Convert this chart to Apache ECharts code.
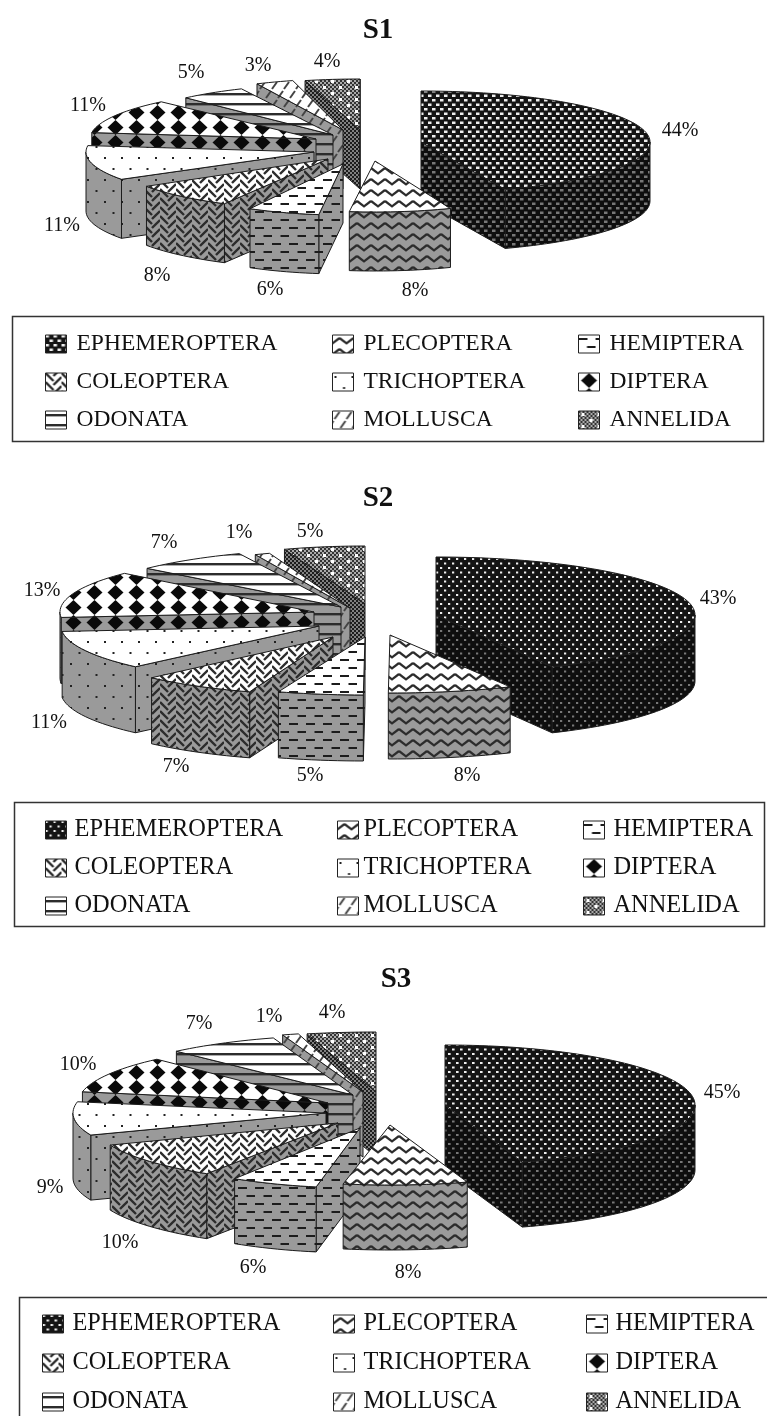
<!DOCTYPE html>
<html>
<head>
<meta charset="utf-8">
<style>
  html, body { margin: 0; padding: 0; background: #fff; }
  #chart { width: 767px; height: 1416px; filter: blur(0.4px); }
</style>
<script src="https://cdn.jsdelivr.net/npm/echarts@6/dist/echarts.min.js"></script>
</head>
<body>
<div id="chart"></div>
<script>
const categories = ['EPHEMEROPTERA', 'PLECOPTERA', 'HEMIPTERA', 'COLEOPTERA', 'TRICHOPTERA', 'DIPTERA', 'ODONATA', 'MOLLUSCA', 'ANNELIDA'];
const panelNames = ['S1', 'S2', 'S3'];

// the printed labels are these rounded
const s1Values = [44, 8, 6, 8, 11, 11, 5, 3, 4];
const s2Values = [42.6, 7.5, 5.2, 7.3, 10.9, 13.1, 7, 1, 5.4];
const s3Values = [45, 8, 6, 10, 9, 10, 7, 1, 4];

// exploded slice placement: apex x, apex y, horizontal radius
const s1Slices = [[421, 142, 229], [375, 161, 205], [343, 164, 193], [328, 159, 215], [314, 152, 228], [316, 139, 226], [333, 135, 215], [343, 130, 202], [360, 130, 221]];
const s2Slices = [[436, 615, 259], [390, 635, 268], [365, 637, 265], [333, 637, 255], [319, 626, 258], [314, 612, 254], [341, 607, 260], [350, 608, 242], [365, 604, 242]];
const s3Slices = [[445, 1105, 250], [390, 1125, 250], [360, 1128, 234], [338, 1123, 245], [326, 1113, 253], [328, 1103, 250], [353, 1095, 258], [363, 1092, 260], [376, 1092, 277]];

// percent label centres
const s1LabelPos = [[680, 131], [415, 291], [270, 290], [157, 276], [62, 226], [88, 106], [191, 73], [258, 66], [327, 62]];
const s2LabelPos = [[718, 599], [467, 776], [310, 776], [176, 767], [49, 723], [42, 591], [164, 543], [239, 533], [310, 532]];
const s3LabelPos = [[722, 1093], [408, 1273], [253, 1268], [120, 1243], [50, 1188], [78, 1065], [199, 1024], [269, 1017], [332, 1013]];

const panels = [
  { values: s1Values, slices: s1Slices, labels: s1LabelPos, ry: 51, depth: 59, title: [378, 16], box: [12, 316, 751, 125],
    cols: [[45, 76], [332, 363], [578, 609]], top: 332, gap: 14, font: 23.5, dot: [3.5, 2.5] },
  { values: s2Values, slices: s2Slices, labels: s2LabelPos, ry: 58, depth: 66, title: [378, 484], box: [14, 802, 750, 124],
    cols: [[45, 74], [337, 363], [583, 613]], top: 818, gap: 14, font: 24.4, dot: [2.2, 2] },
  { values: s3Values, slices: s3Slices, labels: s3LabelPos, ry: 60, depth: 65, title: [396, 965], box: [19, 1297, 760, 130],
    cols: [[42, 72], [333, 363], [586, 615]], top: 1312, gap: 15, font: 24.3, dot: [2.6, 2] }
];

const legendCols = [[0, 3, 6], [1, 4, 7], [2, 5, 8]];

function tile(w, h, bg, draw) {
  const c = document.createElement('canvas');
  c.width = w;
  c.height = h;
  const ctx = c.getContext('2d');
  ctx.fillStyle = bg;
  ctx.fillRect(0, 0, w, h);
  draw(ctx);
  return { image: c, repeat: 'repeat' };
}

function lines(ctx, segs, color, width) {
  ctx.strokeStyle = color;
  ctx.lineWidth = width;
  segs.forEach(s => {
    ctx.beginPath();
    ctx.moveTo(s[0], s[1]);
    ctx.lineTo(s[2], s[3]);
    ctx.stroke();
  });
}

// ephemeroptera, staggered light dashes on black; the dash size differs per panel
function ephemFill(dot, wall) {
  return tile(8, 9, wall ? '#0e0e0e' : '#141414', ctx => {
    ctx.fillStyle = wall ? '#777' : '#eee';
    ctx.fillRect(0, 0, dot[0], dot[1]);
    ctx.fillRect(4, 4.5, dot[0], dot[1]);
  });
}

const painters = [
  null,
  // plecoptera, zigzag
  bg => tile(14, 11, bg, ctx => {
    lines(ctx, [[-1, 9, 7, 3], [7, 3, 15, 9]], '#2c2c2c', 2.2);
  }),
  // hemiptera, dashes
  bg => tile(17, 16, bg, ctx => {
    ctx.fillStyle = '#1c1c1c';
    ctx.fillRect(0, 3, 9, 2);
    ctx.fillRect(8.5, 11, 9, 2);
  }),
  // coleoptera, herringbone
  bg => tile(16, 9, bg, ctx => {
    const segs = [];
    for (let k = -2; k < 3; k++) {
      segs.push([0, k * 9, 8, k * 9 + 8]);
      segs.push([8, k * 9 + 12, 16, k * 9 + 4]);
    }
    lines(ctx, segs, '#2c2c2c', 2.4);
  }),
  // trichoptera, sparse dots
  bg => tile(17, 22, bg, ctx => {
    ctx.fillStyle = '#222';
    ctx.fillRect(2, 3, 2, 2);
    ctx.fillRect(10.5, 14, 2, 2);
  }),
  // diptera, diamonds
  bg => tile(21, 15, bg, ctx => {
    ctx.fillStyle = '#0a0a0a';
    ctx.beginPath();
    ctx.moveTo(10.5, 0);
    ctx.lineTo(18.5, 7.5);
    ctx.lineTo(10.5, 15);
    ctx.lineTo(2.5, 7.5);
    ctx.closePath();
    ctx.fill();
  }),
  // odonata, stripes
  bg => tile(8, 10, bg, ctx => {
    ctx.fillStyle = '#2c2c2c';
    ctx.fillRect(0, 3, 8, 2.4);
  }),
  // mollusca, short slanted strokes
  bg => tile(12, 18, bg, ctx => {
    lines(ctx, [[2, 8, 7, 1], [8, 17, 13, 10], [-4, 17, 1, 10]], '#444', 2);
  }),
  // annelida, dither with sparse light dots
  (bg, wall) => tile(16, 12, '#cfcfcf', ctx => {
    for (let x = 0; x < 16; x += 2) {
      for (let y = 0; y < 12; y += 2) {
        ctx.fillStyle = (x + y) % 4 === 0 ? (wall ? '#1c1c1c' : '#333') : (wall ? '#808080' : '#aaa');
        ctx.fillRect(x, y, 2, 2);
      }
    }
    if (!wall) {
      ctx.fillStyle = '#fff';
      ctx.fillRect(3, 2, 3, 3);
      ctx.fillRect(11, 8, 3, 3);
    }
  })
];

const topFills = painters.map(p => p && p('#fff', false));
const wallFills = painters.map(p => p && p('#9a9a9a', true));

const EDGE = '#1c1c1c';

function facePoly(points, fill) {
  return { type: 'polygon', shape: { points: points }, style: { fill: fill, stroke: EDGE, lineWidth: 1 } };
}

function renderSlice(panel, idx) {
  const place = panel.slices[idx];
  const topFill = idx === 0 ? ephemFill(panel.dot, false) : topFills[idx];
  const wallFill = idx === 0 ? ephemFill(panel.dot, true) : wallFills[idx];
  return function (params, api) {
    const share = api.value(0);
    const a0 = api.value(1);
    const a1 = a0 + share * 3.6;
    const cx = place[0], cy = place[1], r = place[2];
    const pt = deg => {
      const t = deg * Math.PI / 180;
      return [cx + r * Math.sin(t), cy - panel.ry * Math.cos(t)];
    };
    const arc = [];
    const steps = Math.max(2, Math.ceil((a1 - a0) / 2));
    for (let i = 0; i <= steps; i++) arc.push(pt(a0 + (a1 - a0) * i / steps));
    const apex = [cx, cy];
    const down = p => [p[0], p[1] + panel.depth];
    const wall = pts => facePoly(pts.concat(pts.slice().reverse().map(down)), wallFill);

    const children = [];
    const first = arc[0], last = arc[arc.length - 1];
    if (first[0] < apex[0]) children.push(wall([apex, first]));
    if (apex[0] < last[0]) children.push(wall([last, apex]));
    const from = Math.max(a0, 90), to = Math.min(a1, 270);
    if (to > from) {
      const front = [];
      const n = Math.max(2, Math.ceil((to - from) / 2));
      for (let i = 0; i <= n; i++) front.push(pt(from + (to - from) * i / n));
      children.push(wall(front));
    }
    children.push(facePoly([apex].concat(arc), topFill));
    const lp = panel.labels[idx];
    children.push({
      type: 'text',
      style: {
        x: lp[0], y: lp[1], text: Math.round(share) + '%', align: 'center', verticalAlign: 'middle',
        fill: '#111', font: '20px "Liberation Serif"'
      }
    });
    return { type: 'group', children: children };
  };
}

const series = [];
const title = [];
const legend = [];
const graphic = [];

panels.forEach((panel, p) => {
  let cum = 0;
  const mids = [];
  const starts = panel.values.map(v => {
    const s = cum;
    cum += v * 3.6;
    mids.push(s + v * 1.8);
    return s;
  });
  // back slices first so the front ones overlap them
  const order = mids.map((m, i) => i).sort((a, b) => Math.cos(mids[b] * Math.PI / 180) - Math.cos(mids[a] * Math.PI / 180));
  order.forEach((idx, rank) => {
    series.push({
      type: 'custom',
      name: categories[idx],
      coordinateSystem: 'none',
      silent: true,
      z: 2 + rank,
      renderItem: renderSlice(panel, idx),
      data: [[panel.values[idx], starts[idx]]]
    });
  });

  title.push({
    text: panelNames[p],
    left: panel.title[0],
    top: panel.title[1],
    textAlign: 'center',
    padding: 0,
    textStyle: { fontFamily: 'Liberation Serif', fontWeight: 'bold', fontSize: 29, color: '#111' }
  });

  graphic.push({
    type: 'rect',
    shape: { x: panel.box[0] + 0.5, y: panel.box[1] + 0.5, width: panel.box[2], height: panel.box[3] },
    style: { fill: 'none', stroke: '#333', lineWidth: 1.5 }
  });

  legendCols.forEach((col, c) => {
    legend.push({
      orient: 'vertical',
      left: panel.cols[c][0],
      top: panel.top,
      padding: 0,
      itemWidth: 21,
      itemHeight: 18,
      itemGap: panel.gap,
      selectedMode: false,
      icon: 'rect',
      textStyle: {
        fontFamily: 'Liberation Serif',
        fontSize: panel.font,
        color: '#111',
        padding: [0, 0, 0, panel.cols[c][1] - panel.cols[c][0] - 26]
      },
      data: col.map(i => ({
        name: categories[i],
        itemStyle: { color: i === 0 ? ephemFill(panel.dot, false) : topFills[i], borderColor: '#222', borderWidth: 1 }
      }))
    });
  });
});

const chart = echarts.init(document.getElementById('chart'), null, { renderer: 'canvas' });
chart.setOption({
  animation: false,
  backgroundColor: '#fff',
  title: title,
  legend: legend,
  graphic: graphic,
  series: series
});
</script>
</body>
</html>
